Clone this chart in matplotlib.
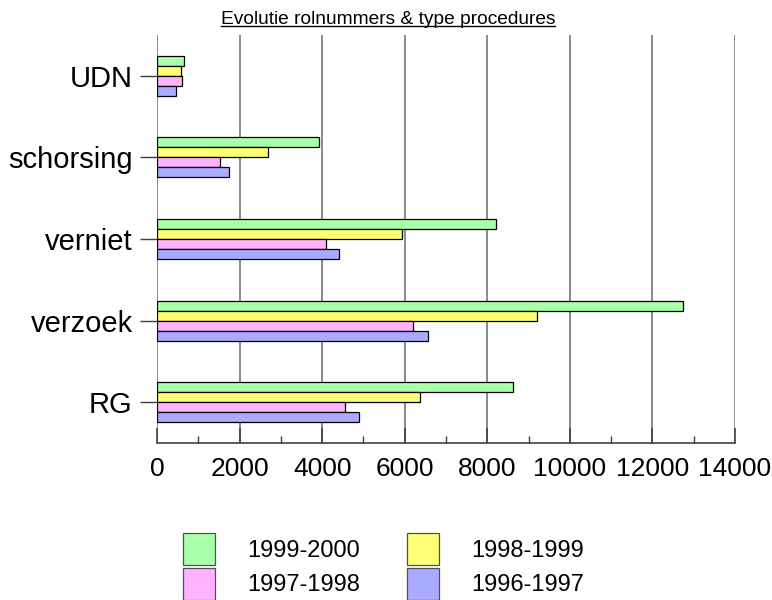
import matplotlib
matplotlib.use("Agg")
import matplotlib.pyplot as plt
from matplotlib.lines import Line2D
from matplotlib.ticker import MultipleLocator
import numpy as np

plt.rcParams['font.family'] = ['Liberation Sans', 'DejaVu Sans']

categories = ["RG", "verzoek", "verniet", "schorsing", "UDN"]
series_names = ["1999-2000", "1998-1999", "1997-1998", "1996-1997"]
v_1999_2000 = [8620, 12750, 8210, 3920, 650]
v_1998_1999 = [6360, 9200, 5940, 2700, 580]
v_1997_1998 = [4560, 6200, 4100, 1520, 600]
v_1996_1997 = [4900, 6570, 4400, 1740, 450]
colors = ["#AAFFAA", "#FFFF77", "#FFB3FF", "#AAAAFF"]
title = "Evolutie rolnummers & type procedures"

series = [v_1999_2000, v_1998_1999, v_1997_1998, v_1996_1997]

fig = plt.figure(figsize=(7.72, 6.0), dpi=100)
ax = fig.add_axes([157/772, 1-443/600, (735-157)/772, (443-35)/600])

y = np.arange(len(categories))
h = 0.1225
offsets = [1.5*h, 0.5*h, -0.5*h, -1.5*h]
handles = []
for vals, col, off, name in zip(series, colors, offsets, series_names):
    b = ax.barh(y + off, vals, height=h, color=col, edgecolor="black",
                linewidth=0.9, label=name, zorder=3)
    handles.append(b)

ax.set_xlim(0, 14000)
ax.set_ylim(-0.5, 4.5)
ax.set_yticks(y)
ax.set_yticklabels(categories, fontsize=21)
ax.xaxis.set_major_locator(MultipleLocator(2000))
ax.xaxis.set_minor_locator(MultipleLocator(1000))
ax.tick_params(axis='x', which='major', direction='in', length=11, width=1.2,
               color='#404040', labelsize=19, pad=10)
ax.tick_params(axis='x', which='minor', direction='in', length=5, width=1.0,
               color='#404040')
ax.tick_params(axis='y', which='major', direction='out', length=12.5, width=1.0,
               color='#404040', pad=5)
ax.grid(axis='x', which='major', color='#808080', linewidth=1.3, zorder=0)
ax.set_axisbelow(True)
for s in ['top', 'right', 'left']:
    ax.spines[s].set_visible(False)
ax.spines['bottom'].set_color('#404040')
ax.spines['bottom'].set_linewidth(1.2)

t = fig.text(388/772, 1-20/600, title, ha='center', va='center', fontsize=13.8)
fig.canvas.draw()
bb = t.get_window_extent(fig.canvas.get_renderer())
inv = fig.transFigure.inverted()
(x0, y0), (x1, y1) = inv.transform([(bb.x0, bb.y0), (bb.x1, bb.y1)])
fig.add_artist(Line2D([x0, x1], [y0 + 0.004, y0 + 0.004], color='black',
                      linewidth=1.0, transform=fig.transFigure))

order = [0, 2, 1, 3]
leg = fig.legend([handles[i] for i in order], [series_names[i] for i in order],
                 loc='upper left', bbox_to_anchor=(183/772, 1-533/600),
                 ncol=2, frameon=False, fontsize=17, borderpad=0,
                 borderaxespad=0, handlelength=1.355, handleheight=1.705,
                 handletextpad=1.36, columnspacing=2.0, labelspacing=0.12)
for p in leg.get_patches():
    p.set_edgecolor('#505050')

fig.savefig("out.png", dpi=100)
